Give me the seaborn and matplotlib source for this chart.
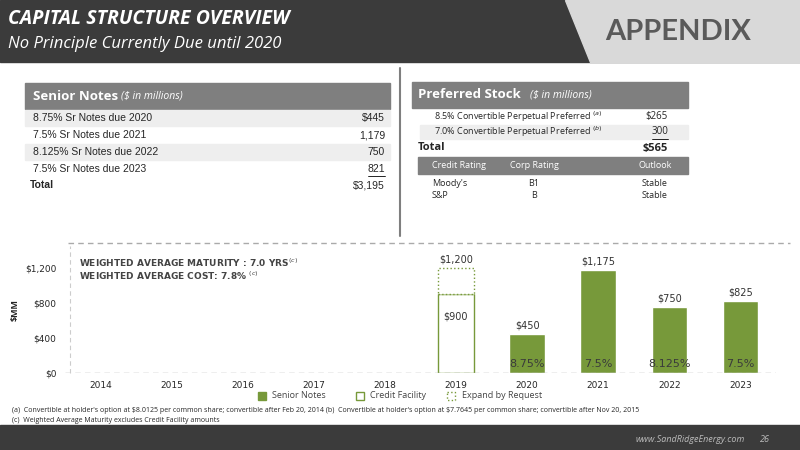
import numpy as np
import pandas as pd
import seaborn as sns
import matplotlib.pyplot as plt
from matplotlib.patches import Rectangle, Polygon

# chart data
years = ["2014", "2015", "2016", "2017", "2018", "2019", "2020", "2021", "2022", "2023"]
senior_notes = [np.nan, np.nan, np.nan, np.nan, np.nan, np.nan, 450, 1175, 750, 825]
credit_facility = [0, 0, 0, 0, 0, 900, 0, 0, 0, 0]
expand_request = [0, 0, 0, 0, 0, 300, 0, 0, 0, 0]
coupons = ["", "", "", "", "", "", "8.75%", "7.5%", "8.125%", "7.5%"]

senior_rows = ["8.75% Sr Notes due 2020", "7.5% Sr Notes due 2021", "8.125% Sr Notes due 2022", "7.5% Sr Notes due 2023"]
senior_vals = ["$445", "1,179", "750", "821"]
pref_rows = ["8.5% Convertible Perpetual Preferred $^{(a)}$", "7.0% Convertible Perpetual Preferred $^{(b)}$"]
pref_vals = ["$265", "300"]
ratings = [("Moody's", "B1", "Stable"), ("S&P", "B", "Stable")]

GREEN = "#77993a"
sns.set_style("white")
plt.rcParams['font.family'] = ['Open Sans', 'DejaVu Sans']

fig = plt.figure(figsize=(8, 4.5), dpi=100)
bg = fig.add_axes([0, 0, 1, 1])
bg.set_xlim(0, 800)
bg.set_ylim(450, 0)
bg.axis("off")

# header
bg.add_patch(Rectangle((0, 0), 800, 62, color="#3b3b3b"))
bg.add_patch(Polygon([(565, 0), (800, 0), (800, 62), (590, 62)], color="#d9d9d9"))
bg.text(605, 32, "APPENDIX", color="#5a5a5a", fontsize=21, fontweight="bold", va="center", family="Lato")
bg.text(8, 19, "CAPITAL STRUCTURE OVERVIEW", color="white", fontsize=14, fontweight="bold", style="italic", va="center")
bg.text(8, 44, "No Principle Currently Due until 2020", color="white", fontsize=12, style="italic", va="center")

# divider lines
bg.plot([400, 400], [68, 236], color="#7f7f7f", lw=1.5)
bg.plot([68, 790], [243, 243], color="#aaaaaa", lw=1, ls=(0, (4, 3)))

# senior notes table
bg.add_patch(Rectangle((25, 83), 365, 26, color="#7f7f7f"))
bg.text(33, 96, "Senior Notes", color="white", fontsize=9.5, fontweight="bold", va="center")
bg.text(121, 96, "($ in millions)", color="white", fontsize=7.5, style="italic", va="center")
for i, (lab, val) in enumerate(zip(senior_rows, senior_vals)):
    y = 118 + i * 17
    if i % 2 == 0:
        bg.add_patch(Rectangle((25, y - 8), 365, 16, color="#eeeeee"))
    bg.text(33, y, lab, fontsize=7.5, va="center", family="Liberation Sans")
    bg.text(385, y, val, fontsize=7.5, va="center", ha="right", family="Liberation Sans")
bg.plot([368, 385], [176, 176], color="black", lw=0.6)
bg.text(30, 185, "Total", fontsize=7.5, fontweight="bold", va="center", family="Liberation Sans")
bg.text(385, 185, "$3,195", fontsize=7.5, va="center", ha="right", family="Liberation Sans")

# preferred stock table
bg.add_patch(Rectangle((412, 82), 276, 26, color="#7f7f7f"))
bg.text(418, 95, "Preferred Stock", color="white", fontsize=9.5, fontweight="bold", va="center")
bg.text(530, 95, "($ in millions)", color="white", fontsize=7.5, style="italic", va="center")
for i, (lab, val) in enumerate(zip(pref_rows, pref_vals)):
    y = 117 + i * 15
    if i == 1:
        bg.add_patch(Rectangle((420, y - 7), 268, 14, color="#eeeeee"))
    bg.text(434, y, lab, fontsize=6.5, va="center")
    bg.text(668, y, val, fontsize=7, va="center", ha="right")
bg.plot([652, 668], [139, 139], color="black", lw=0.6)
bg.text(418, 148, "Total", fontsize=8, fontweight="bold", va="center")
bg.text(668, 148, "$565", fontsize=8, fontweight="bold", va="center", ha="right")
bg.add_patch(Rectangle((418, 157), 270, 17, color="#7f7f7f"))
for x, t, ha in [(432, "Credit Rating", "left"), (534, "Corp Rating", "center"), (655, "Outlook", "center")]:
    bg.text(x, 166, t, color="white", fontsize=6.5, va="center", ha=ha)
for i, (a, b, c) in enumerate(ratings):
    y = 183 + i * 12
    bg.text(432, y, a, fontsize=6.5, va="center")
    bg.text(534, y, b, fontsize=6.5, va="center", ha="center")
    bg.text(655, y, c, fontsize=6.5, va="center", ha="center")

# footer
bg.add_patch(Rectangle((0, 425), 800, 25, color="#3b3b3b"))
bg.text(745, 440, "www.SandRidgeEnergy.com", color="#bbbbbb", fontsize=6.5, style="italic", ha="right", va="center")
bg.text(770, 440, "26", color="#bbbbbb", fontsize=6.5, style="italic", ha="right", va="center")
bg.text(12, 410, "(a)  Convertible at holder's option at \\$8.0125 per common share; convertible after Feb 20, 2014 (b)  Convertible at holder's option at \\$7.7645 per common share; convertible after Nov 20, 2015",
        fontsize=5, va="center")
bg.text(12, 421, "(c)  Weighted Average Maturity excludes Credit Facility amounts", fontsize=5, va="center")

# bar chart
ax = fig.add_axes([0.081, 0.171, 0.889, 0.282])
df = pd.DataFrame({"year": years, "notes": senior_notes})
sns.barplot(data=df, x="year", y="notes", color=GREEN, width=0.5, saturation=1, ax=ax)
cf = np.array(credit_facility, dtype=float)
er = np.array(expand_request, dtype=float)
ax.bar(years, np.where(cf > 0, cf, np.nan), width=0.5, facecolor="white", edgecolor=GREEN, lw=1)
ax.bar(years, np.where(er > 0, er, np.nan), bottom=cf, width=0.5, facecolor="white",
       edgecolor=GREEN, lw=1, ls=":")
for i, y in enumerate(years):
    tot = np.nansum([senior_notes[i], credit_facility[i], expand_request[i]])
    if tot:
        ax.text(i, tot + 40, f"${int(tot):,}", ha="center", va="bottom", fontsize=7, color="#333333", family="Liberation Sans Narrow")
    if coupons[i]:
        ax.text(i, 50, coupons[i], ha="center", va="bottom", fontsize=8, color="#3a3a3a", family="Liberation Sans Narrow")
    if credit_facility[i]:
        ax.text(i, credit_facility[i] * 0.72, f"${credit_facility[i]}", ha="center", va="center", fontsize=7,
                color="#333333", family="Liberation Sans Narrow")
ax.set_ylim(0, 1450)
ax.set_xlim(-0.5, 9.5)
ax.set_yticks([0, 400, 800, 1200])
ax.set_yticklabels(["$0", "$400", "$800", "$1,200"], fontsize=6.5, family="Liberation Sans Narrow")
ax.set_xticks(range(10))
ax.set_xticklabels(years, fontsize=6.5, family="Liberation Sans Narrow")
ax.tick_params(length=0, pad=6)
ax.set_xlabel("")
ax.set_ylabel("$MM", fontsize=6.5, fontweight="bold")
for s in ax.spines.values():
    s.set_visible(False)
ax.axhline(0, color="#aaaaaa", lw=1, ls=(0, (4, 3)))
ax.plot([-0.42, -0.42], [0, 1450], color="#cccccc", lw=0.8, ls=(0, (4, 3)), clip_on=False)
ax.text(-0.3, 1330, "WEIGHTED AVERAGE MATURITY : 7.0 YRS$^{(c)}$\nWEIGHTED AVERAGE COST: 7.8% $^{(c)}$",
        fontsize=6.5, fontweight="bold", color="#444444", va="top", family="Liberation Sans Narrow", linespacing=1.1)

# legend
bg.add_patch(Rectangle((258, 392), 8, 8, color=GREEN))
bg.text(272, 396, "Senior Notes", fontsize=6.5, va="center", color="#444444")
bg.add_patch(Rectangle((356, 392), 8, 8, facecolor="white", edgecolor=GREEN, lw=1))
bg.text(370, 396, "Credit Facility", fontsize=6.5, va="center", color="#444444")
bg.add_patch(Rectangle((447, 392), 8, 8, facecolor="white", edgecolor=GREEN, lw=1, ls=":"))
bg.text(462, 396, "Expand by Request", fontsize=6.5, va="center", color="#444444")

fig.savefig("out.png", dpi=100)
